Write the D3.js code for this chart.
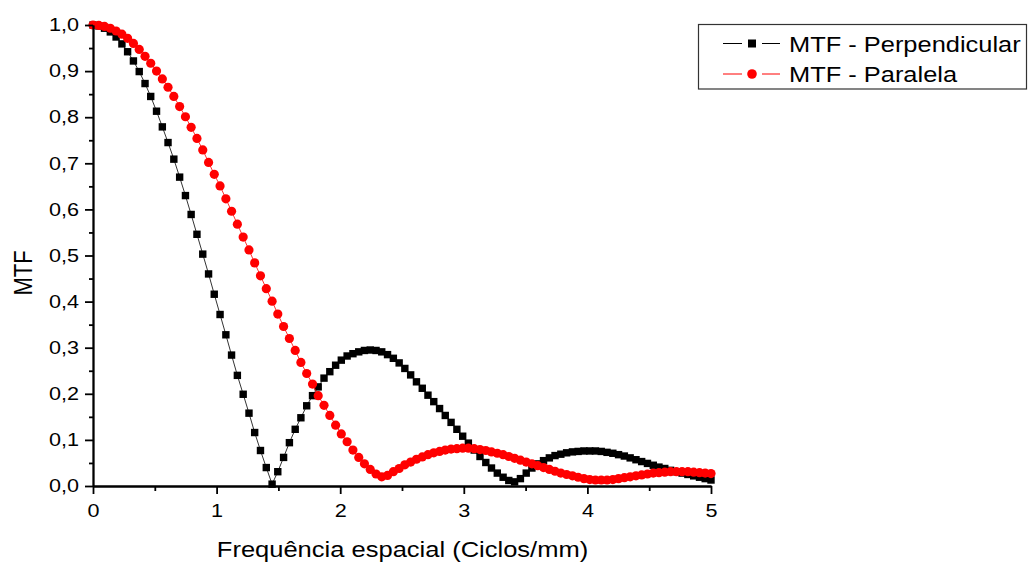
<!DOCTYPE html>
<html>
<head>
<meta charset="utf-8">
<script src="https://cdn.jsdelivr.net/npm/d3@7"></script>
<style>
  html, body { margin: 0; padding: 0; background: #fff; }
  svg { display: block; font-family: "Liberation Sans", Arial, sans-serif; }
</style>
</head>
<body>
<svg id="chart" width="1029" height="563"></svg>
<script>
// Spatial frequency samples (cycles/mm)
const freq = [
  0.000, 0.047, 0.093, 0.140, 0.187, 0.234, 0.280, 0.327, 0.374, 0.421,
  0.467, 0.514, 0.561, 0.607, 0.654, 0.701, 0.748, 0.794, 0.841, 0.888,
  0.935, 0.981, 1.028, 1.075, 1.121, 1.168, 1.215, 1.262, 1.308, 1.355,
  1.402, 1.449, 1.495, 1.542, 1.589, 1.636, 1.682, 1.729, 1.776, 1.822,
  1.869, 1.916, 1.963, 2.009, 2.056, 2.103, 2.150, 2.196, 2.243, 2.290,
  2.336, 2.383, 2.430, 2.477, 2.523, 2.570, 2.617, 2.664, 2.710, 2.757,
  2.804, 2.850, 2.897, 2.944, 2.991, 3.037, 3.084, 3.131, 3.178, 3.224,
  3.271, 3.318, 3.364, 3.411, 3.458, 3.505, 3.551, 3.598, 3.645, 3.692,
  3.738, 3.785, 3.832, 3.879, 3.925, 3.972, 4.019, 4.065, 4.112, 4.159,
  4.206, 4.252, 4.299, 4.346, 4.393, 4.439, 4.486, 4.533, 4.579, 4.626,
  4.673, 4.720, 4.766, 4.813, 4.860, 4.907, 4.953, 5.000
];

// MTF measured perpendicular to the slit
const mtfPerpendicular = [
  1.000, 0.998, 0.993, 0.985, 0.974, 0.959, 0.942, 0.922, 0.899, 0.873,
  0.845, 0.813, 0.779, 0.745, 0.709, 0.670, 0.630, 0.589, 0.546, 0.503,
  0.460, 0.416, 0.372, 0.328, 0.284, 0.240, 0.199, 0.158, 0.116, 0.077,
  0.040, 0.004, 0.031, 0.062, 0.094, 0.123, 0.148, 0.174, 0.196, 0.215,
  0.234, 0.248, 0.262, 0.273, 0.282, 0.287, 0.291, 0.294, 0.295, 0.294,
  0.291, 0.285, 0.277, 0.267, 0.255, 0.241, 0.226, 0.212, 0.197, 0.183,
  0.168, 0.153, 0.138, 0.123, 0.108, 0.093, 0.078, 0.064, 0.051, 0.039,
  0.028, 0.019, 0.012, 0.009, 0.016, 0.028, 0.039, 0.048, 0.055, 0.061,
  0.066, 0.069, 0.072, 0.074, 0.075, 0.076, 0.076, 0.076, 0.075, 0.073,
  0.071, 0.068, 0.065, 0.061, 0.057, 0.053, 0.049, 0.045, 0.041, 0.038,
  0.034, 0.031, 0.028, 0.025, 0.022, 0.019, 0.016, 0.013
];

// MTF measured parallel to the slit
const mtfParalela = [
  1.000, 0.999, 0.997, 0.993, 0.987, 0.980, 0.971, 0.960, 0.947, 0.932,
  0.917, 0.900, 0.883, 0.865, 0.845, 0.823, 0.801, 0.778, 0.754, 0.729,
  0.702, 0.676, 0.651, 0.623, 0.596, 0.568, 0.540, 0.512, 0.484, 0.456,
  0.428, 0.401, 0.373, 0.346, 0.320, 0.294, 0.268, 0.244, 0.221, 0.196,
  0.175, 0.153, 0.132, 0.113, 0.096, 0.078, 0.062, 0.048, 0.036, 0.026,
  0.020, 0.023, 0.031, 0.038, 0.046, 0.052, 0.058, 0.063, 0.068, 0.072,
  0.075, 0.078, 0.080, 0.081, 0.082, 0.082, 0.081, 0.079, 0.077, 0.074,
  0.071, 0.068, 0.064, 0.060, 0.056, 0.052, 0.048, 0.044, 0.040, 0.036,
  0.032, 0.028, 0.025, 0.022, 0.019, 0.016, 0.014, 0.013, 0.013, 0.013,
  0.014, 0.016, 0.018, 0.020, 0.022, 0.024, 0.026, 0.028, 0.029, 0.030,
  0.031, 0.031, 0.031, 0.031, 0.030, 0.029, 0.028, 0.027
];

const xTicks = [0, 1, 2, 3, 4, 5];
const yTicks = [0, 0.1, 0.2, 0.3, 0.4, 0.5, 0.6, 0.7, 0.8, 0.9, 1.0];
const seriesNames = ["MTF - Perpendicular", "MTF - Paralela"];
const xTitle = "Frequência espacial (Ciclos/mm)";
const yTitle = "MTF";

const svg = d3.select("#chart");
const margin = { left: 93, right: 318, top: 25, bottom: 77 };
const W = 1029, H = 563;

const x = d3.scaleLinear().domain([0, 5]).range([margin.left, W - margin.right]);
const y = d3.scaleLinear().domain([0, 1]).range([H - margin.bottom, margin.top]);

const locale = d3.formatLocale({ decimal: ",", thousands: ".", grouping: [3], currency: ["", ""] });
const fmtY = locale.format(".1f");

// Stroke and text helpers
const AXIS_W = 1.8;
const SX_TICK = 1.2;   // horizontal stretch of the tick labels
const SX_TITLE = 1.16;

// ---------- series ----------
const series = [
  { name: seriesNames[0], values: mtfPerpendicular, color: "#000000", shape: "square" },
  { name: seriesNames[1], values: mtfParalela, color: "#ff0000", shape: "circle" }
];

const line = d3.line()
  .x(d => x(d[0]))
  .y(d => y(d[1]));

const plot = svg.append("g");
series.forEach(s => {
  const pts = freq.map((f, i) => [f, s.values[i]]);
  const g = plot.append("g");
  g.append("path")
    .datum(pts)
    .attr("d", line)
    .attr("fill", "none")
    .attr("stroke", s.color)
    .attr("stroke-width", 0.8);
  if (s.shape === "square") {
    const sz = 7.4;
    g.selectAll("rect").data(pts).join("rect")
      .attr("x", d => x(d[0]) - sz / 2)
      .attr("y", d => y(d[1]) - sz / 2)
      .attr("width", sz).attr("height", sz)
      .attr("fill", s.color);
  } else {
    g.selectAll("circle").data(pts).join("circle")
      .attr("cx", d => x(d[0]))
      .attr("cy", d => y(d[1]))
      .attr("r", 4.6)
      .attr("fill", s.color);
  }
});

// ---------- axes ----------
function styleAxis(g) {
  g.selectAll("path.domain").attr("stroke", "#000").attr("stroke-width", AXIS_W);
  g.selectAll(".tick line").attr("stroke", "#000").attr("stroke-width", AXIS_W);
}

const yMinor = d3.range(0.05, 1.0, 0.1);
const xMinor = d3.range(0.5, 5, 1);

const gyMinor = svg.append("g")
  .attr("transform", `translate(${margin.left},0)`)
  .call(d3.axisLeft(y).tickValues(yMinor).tickSize(4).tickSizeOuter(0).tickFormat(""));
styleAxis(gyMinor);

const gxMinor = svg.append("g")
  .attr("transform", `translate(0,${y(0)})`)
  .call(d3.axisBottom(x).tickValues(xMinor).tickSize(5).tickSizeOuter(0).tickFormat(""));
styleAxis(gxMinor);

const gy = svg.append("g")
  .attr("transform", `translate(${margin.left},0)`)
  .call(d3.axisLeft(y).tickValues(yTicks).tickSize(8).tickSizeOuter(0).tickFormat(fmtY));
styleAxis(gy);
gy.selectAll(".tick text")
  .attr("x", null)
  .attr("transform", `translate(-14,0) scale(${SX_TICK},1)`)
  .attr("font-size", 18)
  .attr("font-family", "Liberation Sans, Arial, sans-serif")
  .attr("fill", "#000");

const gx = svg.append("g")
  .attr("transform", `translate(0,${y(0)})`)
  .call(d3.axisBottom(x).tickValues(xTicks).tickSize(8).tickSizeOuter(0).tickFormat(d3.format("d")));
styleAxis(gx);
gx.selectAll(".tick text")
  .attr("y", 18)
  .attr("transform", `scale(${SX_TICK},1)`)
  .attr("font-size", 18)
  .attr("font-family", "Liberation Sans, Arial, sans-serif")
  .attr("fill", "#000");

// ---------- titles ----------
svg.append("text")
  .attr("transform", `translate(${(x(0) + x(5)) / 2 + 0.5},557) scale(${SX_TITLE},1)`)
  .attr("text-anchor", "middle")
  .attr("font-size", 22)
  .attr("fill", "#000")
  .text(xTitle);

svg.append("text")
  .attr("transform", `translate(32,273) scale(${SX_TITLE},1) rotate(-90)`)
  .attr("text-anchor", "middle")
  .attr("font-size", 22)
  .attr("fill", "#000")
  .text(yTitle);

// ---------- legend ----------
const legend = svg.append("g");
legend.append("rect")
  .attr("x", 698.5).attr("y", 24.5)
  .attr("width", 328).attr("height", 64.5)
  .attr("fill", "#fff")
  .attr("stroke", "#333")
  .attr("stroke-width", 1.2);

const rowY = [43.5, 74];
series.forEach((s, i) => {
  const cy = rowY[i];
  const g = legend.append("g");
  [[723, 742], [762, 780]].forEach(([a, b]) => {
    g.append("line")
      .attr("x1", a).attr("x2", b).attr("y1", cy).attr("y2", cy)
      .attr("stroke", s.color).attr("stroke-width", 1);
  });
  if (s.shape === "square") {
    g.append("rect").attr("x", 752 - 4).attr("y", cy - 4)
      .attr("width", 8).attr("height", 8).attr("fill", s.color);
  } else {
    g.append("circle").attr("cx", 752).attr("cy", cy).attr("r", 4.8).attr("fill", s.color);
  }
  g.append("text")
    .attr("transform", `translate(789,${cy + 8.3}) scale(1.13,1)`)
    .attr("font-size", 22.5)
    .attr("fill", "#000")
    .text(s.name);
});
</script>
</body>
</html>
